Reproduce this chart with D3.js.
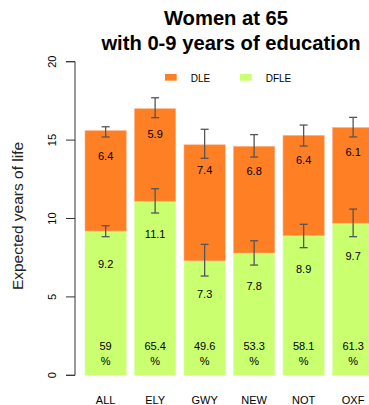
<!DOCTYPE html>
<html>
<head>
<meta charset="utf-8">
<script src="https://cdn.jsdelivr.net/npm/d3@7"></script>
<style>
  html, body { margin: 0; padding: 0; background: #fff; }
  svg { display: block; font-family: "Liberation Sans", Arial, sans-serif; }
</style>
</head>
<body>
<svg id="chart" width="369" height="405"></svg>
<script>
// Regions
const regions = ["ALL", "ELY", "GWY", "NEW", "NOT", "OXF"];
// Disability-free life expectancy (years) and its confidence interval
const dfle = [9.2, 11.1, 7.3, 7.8, 8.9, 9.7];
const dfleLow = [8.84, 10.35, 6.33, 7.03, 8.14, 8.84];
const dfleHigh = [9.54, 11.9, 8.35, 8.58, 9.63, 10.6];
// Life expectancy with disability (years)
const dle = [6.4, 5.9, 7.4, 6.8, 6.4, 6.1];
// Total life expectancy confidence interval
const totalLow = [15.2, 16.43, 13.84, 13.92, 14.62, 15.2];
const totalHigh = [15.85, 17.7, 15.69, 15.35, 15.96, 16.45];
// Share of remaining life that is disability-free (%)
const pctDfle = ["59", "65.4", "49.6", "53.3", "58.1", "61.3"];
const yTicks = [0, 5, 10, 15, 20];

const colDLE = "#FF7F24";
const colDFLE = "#CAFF70";

const svg = d3.select("#chart");

const y = d3.scaleLinear().domain([0, 20]).range([375.3, 61.7]);
// bar width 1, gap 0.2 (in bar units)
const step = 49.5;
const x = d3.scaleBand().domain(regions)
  .range([85, 85 + step * (regions.length - 0.2 / 1.2)])
  .paddingInner(0.2 / 1.2).paddingOuter(0);

// Title
const title = svg.append("text")
  .attr("text-anchor", "middle")
  .attr("font-weight", "bold")
  .attr("font-size", 20.2)
  .attr("fill", "#000");
title.append("tspan").attr("x", 226).attr("y", 25).text("Women at 65");
title.append("tspan").attr("x", 231).attr("y", 50).text("with 0-9 years of education");

// Y axis
const yAxis = d3.axisLeft(y).tickValues(yTicks).tickSize(9).tickPadding(0).tickFormat(d3.format("d"));
const gy = svg.append("g").attr("transform", "translate(75,0)").call(yAxis);
gy.select(".domain").attr("d", `M-9,${y(20)}H0V${y(0)}H-9`).attr("stroke", "#333");
gy.selectAll(".tick").attr("transform", null);
gy.selectAll(".tick line").attr("stroke", "#333").attr("y1", d => y(d)).attr("y2", d => y(d));
gy.selectAll(".tick text")
  .attr("font-size", 11)
  .attr("fill", "#000")
  .attr("text-anchor", "middle")
  .attr("x", 0)
  .attr("y", 0)
  .attr("dx", null)
  .attr("dy", "0.35em")
  .attr("transform", d => `translate(-23,${y(d)}) rotate(-90)`);

// Y axis title
svg.append("text")
  .attr("transform", "translate(23,216) rotate(-90)")
  .attr("text-anchor", "middle")
  .attr("font-size", 15.5)
  .attr("fill", "#222")
  .text("Expected years of life");

// Legend
const legend = [["DLE", colDLE, 165], ["DFLE", colDFLE, 240]];
legend.forEach(([label, col, lx]) => {
  svg.append("rect").attr("x", lx).attr("y", 74).attr("width", 11.7).attr("height", 6.7).attr("fill", col);
  svg.append("text").attr("x", lx + 25.7).attr("y", 81.5).attr("font-size", 10).attr("fill", "#000").text(label);
});

// Bars
const bars = svg.append("g");
regions.forEach((r, i) => {
  const bx = x(r), bw = x.bandwidth();
  const total = dfle[i] + dle[i];
  bars.append("rect")
    .attr("x", bx).attr("width", bw)
    .attr("y", y(dfle[i])).attr("height", y(0) - y(dfle[i]))
    .attr("fill", colDFLE).attr("stroke", "#ddffa8").attr("stroke-width", 0.6);
  bars.append("rect")
    .attr("x", bx).attr("width", bw)
    .attr("y", y(total)).attr("height", y(dfle[i]) - y(total))
    .attr("fill", colDLE).attr("stroke", "#ffb080").attr("stroke-width", 0.6);
});

// Error bars
const err = svg.append("g").attr("stroke", "#555").attr("stroke-width", 1.3);
function errBar(cx, lo, hi) {
  err.append("line").attr("x1", cx).attr("x2", cx).attr("y1", y(lo)).attr("y2", y(hi));
  err.append("line").attr("x1", cx - 4).attr("x2", cx + 4).attr("y1", y(lo)).attr("y2", y(lo));
  err.append("line").attr("x1", cx - 4).attr("x2", cx + 4).attr("y1", y(hi)).attr("y2", y(hi));
}
regions.forEach((r, i) => {
  const cx = x(r) + x.bandwidth() / 2;
  errBar(cx, totalLow[i], totalHigh[i]);
  errBar(cx, dfleLow[i], dfleHigh[i]);
});

// Value labels
const labels = svg.append("g").attr("font-size", 11).attr("fill", "#000").attr("text-anchor", "middle");
regions.forEach((r, i) => {
  const cx = x(r) + x.bandwidth() / 2;
  const total = dfle[i] + dle[i];
  labels.append("text").attr("x", cx).attr("y", y(total - 1.6)).attr("dy", "0.35em").text(dle[i].toFixed(1));
  labels.append("text").attr("x", cx).attr("y", y(dfle[i] - 2.1)).attr("dy", "0.35em").text(dfle[i].toFixed(1));
  labels.append("text").attr("x", cx).attr("y", y(1.87)).attr("dy", "0.35em").text(pctDfle[i]);
  labels.append("text").attr("x", cx).attr("y", y(0.91)).attr("dy", "0.35em").text("%");
});

// Category labels
svg.append("g").attr("font-size", 11).attr("fill", "#000").attr("text-anchor", "middle")
  .selectAll("text").data(regions).join("text")
  .attr("x", d => x(d) + x.bandwidth() / 2)
  .attr("y", 404)
  .text(d => d);
</script>
</body>
</html>
